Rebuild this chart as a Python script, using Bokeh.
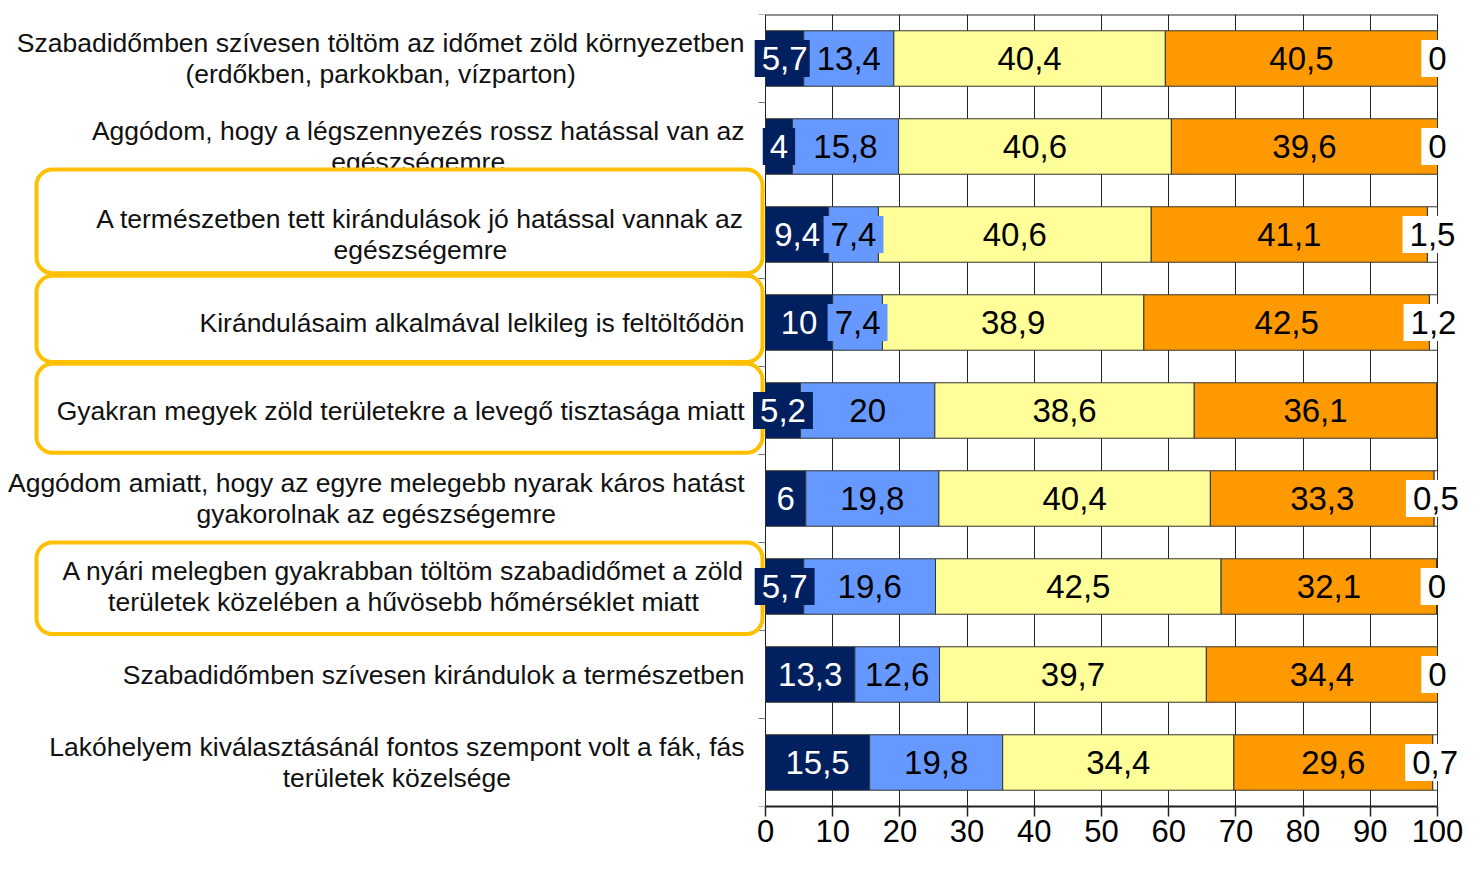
from bokeh.plotting import figure
from bokeh.models import Range1d, FixedTicker, ColumnDataSource
from bokeh.core.properties import value
from bokeh.embed import file_html
from bokeh.resources import INLINE
import math

# ---------------- data ----------------
categories = [
    "Szabadidőmben szívesen töltöm az időmet zöld környezetben\n(erdőkben, parkokban, vízparton)",
    "Aggódom, hogy a légszennyezés rossz hatással van az\negészségemre",
    "A természetben tett kirándulások jó hatással vannak az\negészségemre",
    "Kirándulásaim alkalmával lelkileg is feltöltődön",
    "Gyakran megyek zöld területekre a levegő tisztasága miatt",
    "Aggódom amiatt, hogy az egyre melegebb nyarak káros hatást\ngyakorolnak az egészségemre",
    "A nyári melegben gyakrabban töltöm szabadidőmet a zöld\nterületek közelében a hűvösebb hőmérséklet miatt",
    "Szabadidőmben szívesen kirándulok a természetben",
    "Lakóhelyem kiválasztásánál fontos szempont volt a fák, fás\nterületek közelsége",
]
s1 = [5.7, 4, 9.4, 10, 5.2, 6, 5.7, 13.3, 15.5]
s2 = [13.4, 15.8, 7.4, 7.4, 20, 19.8, 19.6, 12.6, 19.8]
s3 = [40.4, 40.6, 40.6, 38.9, 38.6, 40.4, 42.5, 39.7, 34.4]
s4 = [40.5, 39.6, 41.1, 42.5, 36.1, 33.3, 32.1, 34.4, 29.6]
s5 = [0, 0, 1.5, 1.2, None, 0.5, 0, 0, 0.7]
x_ticks = [0, 10, 20, 30, 40, 50, 60, 70, 80, 90, 100]
highlighted = [2, 3, 4, 6]

# ---------------- styles ----------------
series = [s1, s2, s3, s4, s5]
names = ["s1", "s2", "s3", "s4", "s5"]
colors = ["#002060", "#6699FF", "#FFFF99", "#FF9900", "#FFFFFF"]
label_colors = ["white", "black", "black", "black", "black"]
FONT = "Liberation Sans"

W, H = 1464, 854
X0_PX, X100_PX = 765, 1437          # canvas pixel of value 0 and 100
scale = (X100_PX - X0_PX) / (x_ticks[-1] - x_ticks[0])
x_start = x_ticks[0] - X0_PX / scale
x_end = x_ticks[0] + (W - X0_PX) / scale
n = len(categories)

# highlight box geometry (style)
BOX_LEFT_PX, BOX_RIGHT_PX = 36, 762
hl_top_pad = [0.24, 0.03, 0.03, 0.0]
hl_bot_pad = [0.06, 0.05, 0.02, -0.04]

p = figure(width=W, height=H, x_range=Range1d(x_start, x_end), y_range=Range1d(n, 0),
           y_axis_location=None, toolbar_location=None, output_backend="svg",
           min_border_left=0, min_border_right=0, min_border_top=14, min_border_bottom=48)
p.outline_line_color = None
p.background_fill_color = "white"
p.border_fill_color = "white"

# axis
p.xaxis.ticker = FixedTicker(ticks=x_ticks)
p.xaxis.bounds = (x_ticks[0], x_ticks[-1])
p.xaxis.major_tick_out = 10
p.xaxis.major_tick_in = 0
p.xaxis.minor_tick_line_color = None
p.xaxis.axis_line_width = 2
p.xaxis.axis_line_color = "#222222"
p.xaxis.major_tick_line_color = "#222222"
p.xaxis.major_tick_line_width = 1.5
p.xaxis.major_label_text_font = FONT
p.xaxis.major_label_text_font_size = "31px"
p.xaxis.major_label_text_color = "black"
p.xaxis.major_label_standoff = 3

p.xgrid.ticker = FixedTicker(ticks=x_ticks)
p.xgrid.grid_line_color = "#222222"
p.xgrid.grid_line_width = 1
p.ygrid.visible = False

# top frame line and left axis ticks at category boundaries
p.segment(x0=x_ticks[0], y0=0, x1=x_ticks[-1], y1=0, line_color="#222222", line_width=2)
p.ray(x=[x_ticks[0]] * (n + 1), y=list(range(n + 1)), length=7, length_units="screen",
      angle=math.pi, line_color="#777777", line_width=1)

# bars
ys = [i + 0.5 for i in range(n)]
data = {"y": ys}
for nm, s in zip(names, series):
    data[nm] = [v if v is not None else 0 for v in s]
src = ColumnDataSource(data)
p.hbar_stack(names, y="y", height=0.63, fill_color=colors, line_color="#333333",
             line_width=1, source=src)


def fmt(v):
    if float(v).is_integer():
        return str(int(v))
    return ("%g" % v).replace(".", ",")


def cat_labels(idx):
    p.text(x=[x_ticks[0]] * len(idx), y=[ys[i] for i in idx], text=[categories[i] for i in idx],
           anchor=value("center_right"), text_align="center", text_baseline="middle",
           x_offset=-21, text_font=value(FONT), text_font_size="26.5px", text_color="#111111",
           text_line_height=1.02)


# category labels not highlighted
cat_labels([i for i in range(n) if i not in highlighted])

# highlight boxes
bl = x_start + BOX_LEFT_PX / scale
br = x_start + BOX_RIGHT_PX / scale
p.quad(left=[bl] * len(highlighted), right=[br] * len(highlighted),
       top=[i - t for i, t in zip(highlighted, hl_top_pad)],
       bottom=[i + 1 - b for i, b in zip(highlighted, hl_bot_pad)],
       fill_color="white", line_color="#FFC000", line_width=4, border_radius=16)

cat_labels(highlighted)

# value labels
cum = [0.0] * n
for k, s in enumerate(series):
    xs, yy, tt = [], [], []
    for i, v in enumerate(s):
        if v is None:
            continue
        xs.append(cum[i] + v / 2)
        yy.append(ys[i])
        tt.append(fmt(v))
        cum[i] += v
    p.text(x=xs, y=yy, text=tt, text_align="center", text_baseline="middle",
           text_font=value(FONT), text_font_size="33px", text_color=label_colors[k],
           background_fill_color=colors[k], padding=7)

open("out.html", "w").write(file_html(p, INLINE))
